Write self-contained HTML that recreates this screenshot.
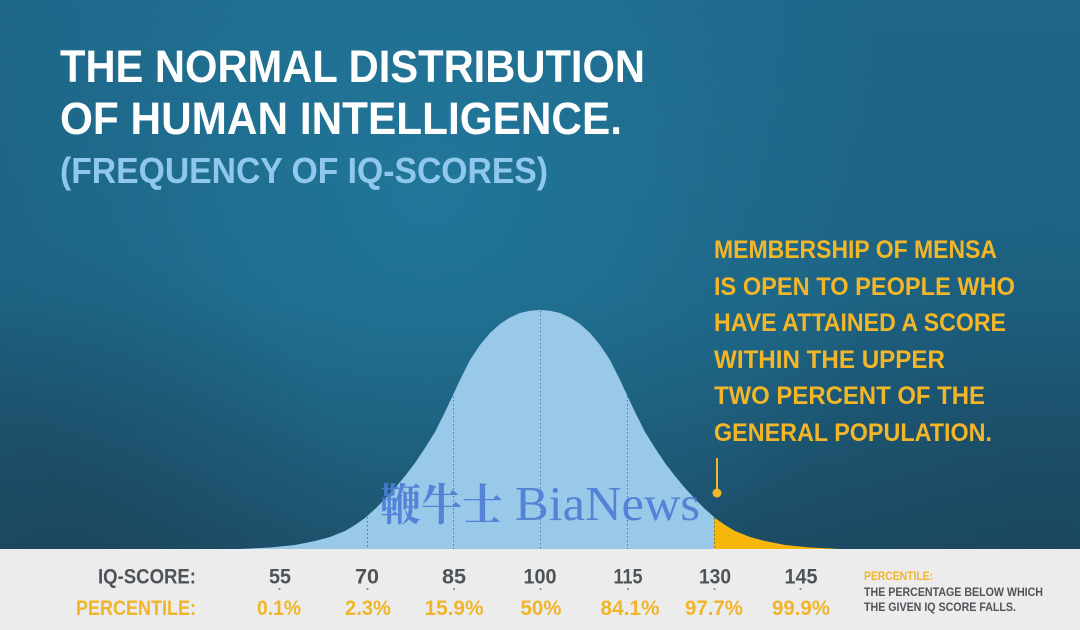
<!DOCTYPE html>
<html>
<head>
<meta charset="utf-8">
<style>
html,body{margin:0;padding:0;background:#ececec;}
svg{display:block;}
</style>
</head>
<body>
<svg width="1080" height="630" viewBox="0 0 1080 630" xmlns="http://www.w3.org/2000/svg">
  <defs>
    <linearGradient id="bgv" x1="0" y1="0" x2="0" y2="1">
      <stop offset="0" stop-color="#1e6789"/>
      <stop offset="0.55" stop-color="#1d6383"/>
      <stop offset="1" stop-color="#1c4c65"/>
    </linearGradient>
    <radialGradient id="glow" cx="430" cy="190" r="470" gradientUnits="userSpaceOnUse">
      <stop offset="0" stop-color="#2585aa" stop-opacity="0.55"/>
      <stop offset="0.6" stop-color="#2585aa" stop-opacity="0.2"/>
      <stop offset="1" stop-color="#2585aa" stop-opacity="0"/>
    </radialGradient>
    <radialGradient id="darkbl" cx="60" cy="540" r="300" gradientUnits="userSpaceOnUse">
      <stop offset="0" stop-color="#1b3f55" stop-opacity="0.45"/>
      <stop offset="1" stop-color="#1b3f55" stop-opacity="0"/>
    </radialGradient>
    <radialGradient id="darkbr" cx="1040" cy="520" r="320" gradientUnits="userSpaceOnUse">
      <stop offset="0" stop-color="#1a3f55" stop-opacity="0.4"/>
      <stop offset="1" stop-color="#1a3f55" stop-opacity="0"/>
    </radialGradient>
  </defs>

  <!-- background -->
  <rect x="0" y="0" width="1080" height="549" fill="url(#bgv)"/>
  <rect x="0" y="0" width="1080" height="549" fill="url(#glow)"/>
  <rect x="0" y="0" width="1080" height="549" fill="url(#darkbl)"/>
  <rect x="0" y="0" width="1080" height="549" fill="url(#darkbr)"/>

  <!-- bottom band -->
  <rect x="0" y="549" width="1080" height="81" fill="#ececec"/>

  <!-- bell curve (blue) -->
  <polygon fill="#98c9e8" points="240,549 270,547.5 295,545 315,541 330,537 345,531 355,525 365,518 375,509 385,499 395,488 405,476 415,463 425,448 435,432 445,412 453,395 460,380 470,360 480,345 490,333 500,324 510,317.5 520,313 530,310.7 540,310 550,310.7 560,313 570,317.5 580,324 590,333 600,345 610,360 620,380 627,395 635,412 645,432 655,448 665,463 675,476 685,488 695,499 705,509 714,517 714,549"/>
  <!-- yellow tail -->
  <polygon fill="#f6b60c" points="714,549 714,517 715,518 725,525 735,531 750,537 765,541 785,545 810,547.5 840,549"/>

  <!-- dotted lines -->
  <g stroke="#4f7895" stroke-width="1" stroke-dasharray="1.5 2.5">
    <line x1="367.5" y1="517" x2="367.5" y2="549"/>
    <line x1="453.5" y1="396" x2="453.5" y2="549"/>
    <line x1="540.5" y1="311" x2="540.5" y2="549"/>
    <line x1="627.5" y1="396" x2="627.5" y2="549"/>
    <line x1="714.5" y1="518" x2="714.5" y2="549"/>
  </g>

  <!-- title -->
  <g font-family="'Liberation Sans', sans-serif" font-weight="bold">
    <text x="60" y="82" font-size="45" fill="#ffffff" textLength="585" lengthAdjust="spacingAndGlyphs">THE NORMAL DISTRIBUTION</text>
    <text x="60" y="134" font-size="45" fill="#ffffff" textLength="562" lengthAdjust="spacingAndGlyphs">OF HUMAN INTELLIGENCE.</text>
    <text x="60" y="183" font-size="36" fill="#8fc8ea" textLength="488" lengthAdjust="spacingAndGlyphs">(FREQUENCY OF IQ-SCORES)</text>
  </g>

  <!-- mensa text -->
  <g font-family="'Liberation Sans', sans-serif" font-weight="bold" font-size="25" fill="#f2b628">
    <text x="714" y="258" textLength="283" lengthAdjust="spacingAndGlyphs">MEMBERSHIP OF MENSA</text>
    <text x="714" y="295" textLength="301" lengthAdjust="spacingAndGlyphs">IS OPEN TO PEOPLE WHO</text>
    <text x="714" y="331" textLength="292" lengthAdjust="spacingAndGlyphs">HAVE ATTAINED A SCORE</text>
    <text x="714" y="368" textLength="231" lengthAdjust="spacingAndGlyphs">WITHIN THE UPPER</text>
    <text x="714" y="404" textLength="271" lengthAdjust="spacingAndGlyphs">TWO PERCENT OF THE</text>
    <text x="714" y="441" textLength="278" lengthAdjust="spacingAndGlyphs">GENERAL POPULATION.</text>
  </g>
  <!-- marker -->
  <line x1="717" y1="458" x2="717" y2="490" stroke="#f2b628" stroke-width="2"/>
  <circle cx="717" cy="493" r="4.5" fill="#f2b628"/>

  <!-- watermark -->
  <g fill="#4a7bd4" fill-opacity="0.9">
    <text x="380" y="520" font-family="'Noto Serif CJK SC', 'Liberation Serif', serif" font-size="44" font-weight="bold" textLength="123" lengthAdjust="spacingAndGlyphs">鞭牛士</text>
    <text x="515" y="520" font-family="'Liberation Serif', serif" font-size="49" textLength="185" lengthAdjust="spacingAndGlyphs">BiaNews</text>
  </g>

  <!-- bottom labels -->
  <g font-family="'Liberation Sans', sans-serif" font-weight="bold" font-size="21.5">
    <text x="196" y="583.5" text-anchor="end" fill="#4e5358" textLength="98" lengthAdjust="spacingAndGlyphs">IQ-SCORE:</text>
    <text x="196" y="615" text-anchor="end" fill="#f0b52a" textLength="120" lengthAdjust="spacingAndGlyphs">PERCENTILE:</text>

    <g fill="#4e5358" text-anchor="middle">
      <text x="280" y="583.5" textLength="22" lengthAdjust="spacingAndGlyphs">55</text>
      <text x="367" y="583.5" textLength="24" lengthAdjust="spacingAndGlyphs">70</text>
      <text x="454" y="583.5" textLength="24" lengthAdjust="spacingAndGlyphs">85</text>
      <text x="540" y="583.5" textLength="33" lengthAdjust="spacingAndGlyphs">100</text>
      <text x="628" y="583.5" textLength="29" lengthAdjust="spacingAndGlyphs">115</text>
      <text x="715" y="583.5" textLength="32" lengthAdjust="spacingAndGlyphs">130</text>
      <text x="801" y="583.5" textLength="33" lengthAdjust="spacingAndGlyphs">145</text>
    </g>
    <g fill="#f0b52a" text-anchor="middle">
      <text x="279" y="615" textLength="44" lengthAdjust="spacingAndGlyphs">0.1%</text>
      <text x="368" y="615" textLength="46" lengthAdjust="spacingAndGlyphs">2.3%</text>
      <text x="454" y="615" textLength="59" lengthAdjust="spacingAndGlyphs">15.9%</text>
      <text x="541" y="615" textLength="41" lengthAdjust="spacingAndGlyphs">50%</text>
      <text x="630" y="615" textLength="59" lengthAdjust="spacingAndGlyphs">84.1%</text>
      <text x="714" y="615" textLength="58" lengthAdjust="spacingAndGlyphs">97.7%</text>
      <text x="801" y="615" textLength="58" lengthAdjust="spacingAndGlyphs">99.9%</text>
    </g>
  </g>
  <!-- small dots -->
  <g fill="#7a7f84">
    <circle cx="279.5" cy="589" r="1"/>
    <circle cx="367.5" cy="589" r="1"/>
    <circle cx="454" cy="589" r="1"/>
    <circle cx="540.5" cy="589" r="1"/>
    <circle cx="628" cy="589" r="1"/>
    <circle cx="714.5" cy="589" r="1"/>
    <circle cx="800.5" cy="589" r="1"/>
  </g>

  <!-- note -->
  <g font-family="'Liberation Sans', sans-serif" font-weight="bold" font-size="12">
    <text x="864" y="580" fill="#f0b52a" textLength="69" lengthAdjust="spacingAndGlyphs">PERCENTILE:</text>
    <text x="864" y="596" fill="#4e5358" textLength="179" lengthAdjust="spacingAndGlyphs">THE PERCENTAGE BELOW WHICH</text>
    <text x="864" y="611" fill="#4e5358" textLength="152" lengthAdjust="spacingAndGlyphs">THE GIVEN IQ SCORE FALLS.</text>
  </g>
</svg>
</body>
</html>
